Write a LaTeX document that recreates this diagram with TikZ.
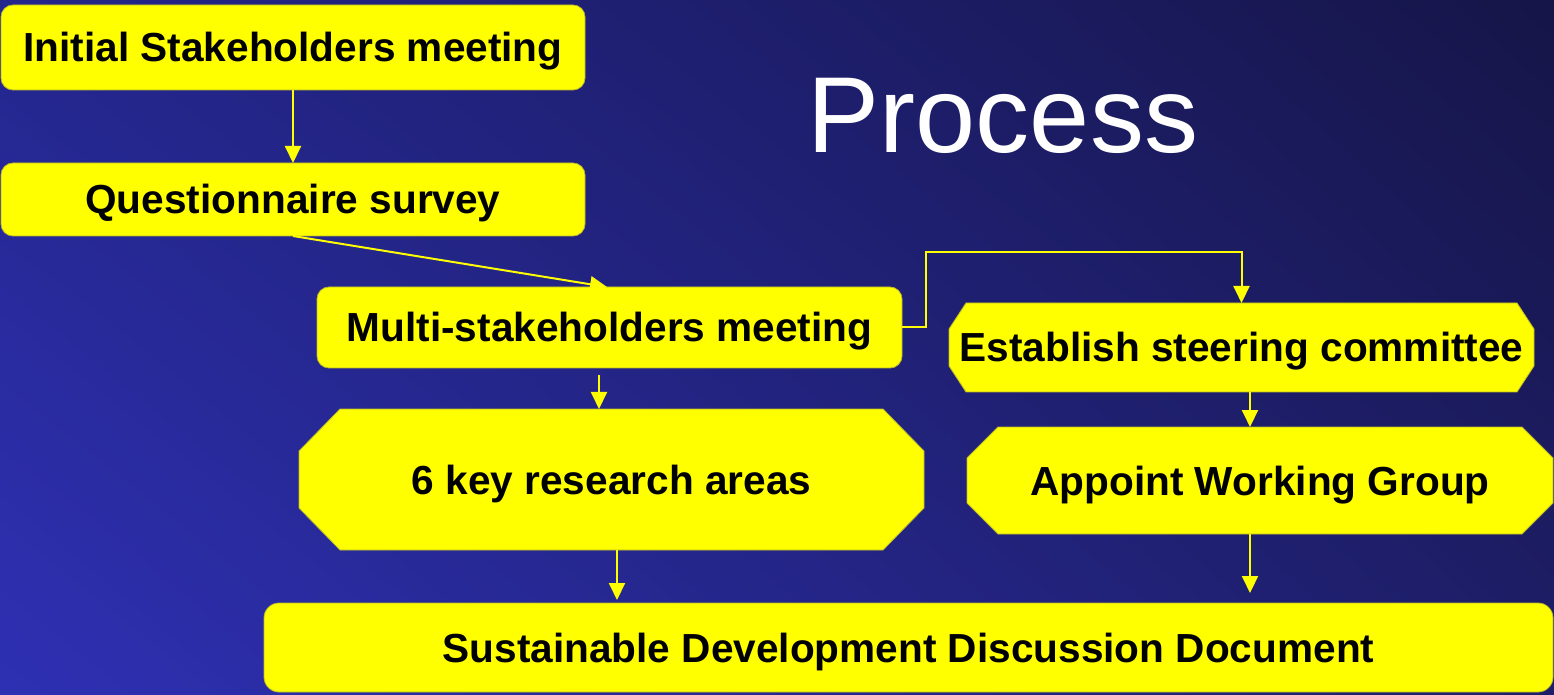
\documentclass[tikz,border=0pt]{standalone}
\usepackage{fontspec}
\setmainfont{Liberation Sans}
\usetikzlibrary{arrows.meta,calc,backgrounds,shadings}
\definecolor{ybox}{RGB}{255,255,0}
\definecolor{yedge}{RGB}{185,185,40}
\definecolor{bgLL}{RGB}{46,48,180}
\definecolor{bgUL}{RGB}{36,38,140}
\definecolor{bgUR}{RGB}{22,21,72}
\definecolor{bgLR}{RGB}{30,30,105}
\tikzset{
  x=1pt,y=1pt,
  boxtext/.style={inner sep=0pt,outer sep=0pt,align=center,text height=29pt,text depth=0pt,
    font=\fontsize{40.6}{48}\selectfont\bfseries,text=black},
  roundbox/.style={boxtext,rectangle,rounded corners=12pt,fill=ybox,draw=yedge,line width=0.8pt},
  octbox/.style={boxtext,rectangle,draw=none},
  octfill/.style={fill=ybox,draw=yedge,line width=0.8pt},
  arr/.style={draw=ybox,line width=2pt,-{Triangle[width=16pt,length=17pt]}},
  conn/.style={draw=ybox,line width=2pt},
}
\newcommand{\octshape}[3]{% name, chamfer x, chamfer y
  \path[octfill]
    ($(#1.north west)+(#2,0)$) -- ($(#1.north east)+(-#2,0)$) --
    ($(#1.north east)+(0,-#3)$) -- ($(#1.south east)+(0,#3)$) --
    ($(#1.south east)+(-#2,0)$) -- ($(#1.south west)+(#2,0)$) --
    ($(#1.south west)+(0,#3)$) -- ($(#1.north west)+(0,-#3)$) -- cycle;}
\begin{document}
\begin{tikzpicture}
\useasboundingbox (0,0) rectangle (1554,694);
\begin{pgfonlayer}{background}
\shade[lower left=bgLL,upper left=bgUL,upper right=bgUR,lower right=bgLR] (0,0) rectangle (1554,694);
\end{pgfonlayer}

\node[text=white,font=\fontsize{108}{120}\selectfont,inner sep=0pt,text height=77pt,text depth=0pt] (title) at (1003,580) {Process};

\node[roundbox,minimum width=584pt,minimum height=85pt] (b1) at (293,646.5) {Initial Stakeholders meeting};
\node[roundbox,minimum width=584pt,minimum height=73pt] (b2) at (293,494.5) {Questionnaire survey};
\node[roundbox,minimum width=585pt,minimum height=81pt] (b3) at (609.5,366.5) {Multi-stakeholders meeting};
\node[octbox,minimum width=625pt,minimum height=141pt] (b4) at (611.5,214.5) {6 key research areas};
\node[octbox,minimum width=585pt,minimum height=89pt] (b5) at (1241.5,346.5) {Establish steering committee};
\node[octbox,minimum width=586pt,minimum height=107pt] (b7) at (1260,213.5) {Appoint Working Group};
\node[roundbox,rounded corners=15pt,minimum width=1289pt,minimum height=89pt] (b6) at (908.5,46.5) {Sustainable Development Discussion Document};

\begin{pgfonlayer}{background}
\octshape{b4}{41}{42}
\octshape{b5}{17}{26}
\octshape{b7}{31}{31}
\end{pgfonlayer}

\draw[arr] (b1.south) -- (b2.north);
\draw[arr] (b2.south) -- ($(b3.north)+(-2.5,0)$);
\draw[arr] ($(b3.south)+(-10.5,-7)$) coordinate (s3) -- (s3 |- b4.north);
\draw[arr] ($(b4.south)+(5.5,0)$) coordinate (s4) -- ($(s4 |- b6.north)+(0,3)$);
\coordinate (e1) at ($(b3.east)+(24,0)$);
\coordinate (e2) at ($(b5.north)+(0,51)$);
\draw[arr] (b3.east) -- (e1) |- (e2) -- (b5.north);
\draw[arr] ($(b5.south)+(8.5,0)$) coordinate (s5) -- (s5 |- b7.north);
\draw[arr] ($(b7.south)+(-10,0)$) coordinate (s7) -- ($(s7 |- b6.north)+(0,10)$);
\end{tikzpicture}
\end{document}
